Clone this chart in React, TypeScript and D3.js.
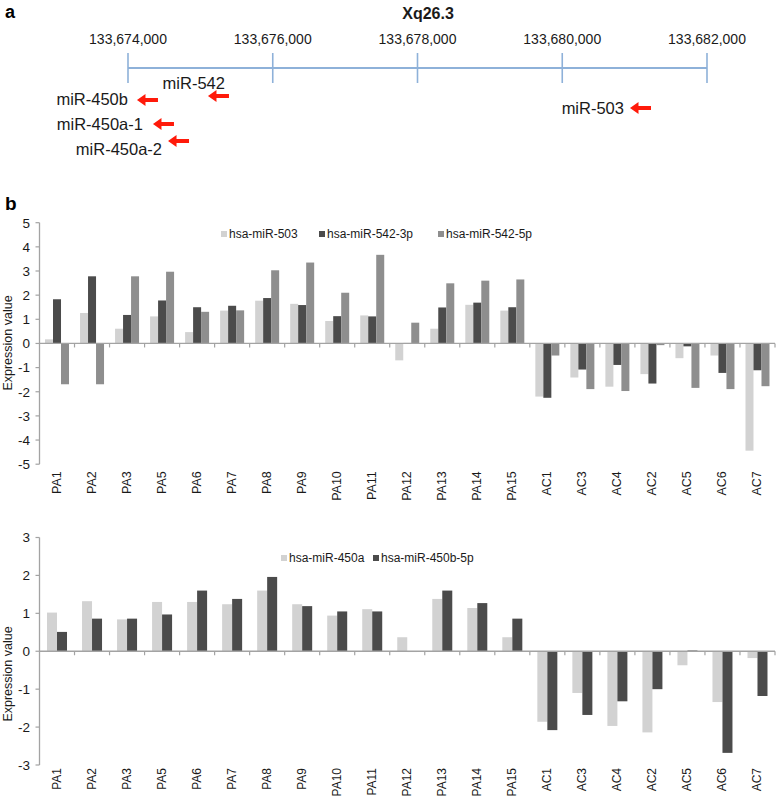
import React from 'react';
import * as d3 from 'd3';

// panel a: genomic locus
const genomeTicks = [133674000, 133676000, 133678000, 133680000, 133682000];
const mirNames = ['miR-542', 'miR-450b', 'miR-450a-1', 'miR-450a-2', 'miR-503'];
const mirPositions = [133675105, 133674124, 133674345, 133674553, 133680936];

// panel b: expression values
const categories = ['PA1', 'PA2', 'PA3', 'PA5', 'PA6', 'PA7', 'PA8', 'PA9', 'PA10', 'PA11', 'PA12', 'PA13', 'PA14', 'PA15', 'AC1', 'AC3', 'AC4', 'AC2', 'AC5', 'AC6', 'AC7'];

const mir503 = [0.17, 1.26, 0.61, 1.12, 0.47, 1.36, 1.77, 1.64, 0.93, 1.16, -0.70, 0.61, 1.60, 1.36, -2.20, -1.41, -1.79, -1.27, -0.61, -0.50, -4.44];
const mir542_3p = [1.83, 2.78, 1.18, 1.78, 1.50, 1.56, 1.88, 1.59, 1.13, 1.12, 0.02, 1.49, 1.69, 1.50, -2.25, -1.08, -0.89, -1.66, -0.12, -1.22, -1.11];
const mir542_5p = [-1.69, -1.69, 2.78, 2.97, 1.31, 1.37, 3.03, 3.35, 2.10, 3.67, 0.86, 2.49, 2.60, 2.65, -0.50, -1.89, -1.97, -0.07, -1.84, -1.89, -1.77];

const mir450a = [1.02, 1.32, 0.84, 1.30, 1.30, 1.24, 1.60, 1.24, 0.94, 1.11, 0.37, 1.38, 1.14, 0.37, -1.86, -1.10, -1.97, -2.14, -0.37, -1.34, -0.18];
const mir450b5p = [0.51, 0.86, 0.86, 0.97, 1.60, 1.38, 1.96, 1.19, 1.05, 1.05, -0.02, 1.60, 1.27, 0.86, -2.08, -1.68, -1.32, -1.00, 0.02, -2.68, -1.18];

const ticks1 = [5, 4, 3, 2, 1, 0, -1, -2, -3, -4, -5];
const ticks2 = [3, 2, 1, 0, -1, -2, -3];

const FONT = '"Liberation Sans", Arial, sans-serif';
const LIGHT = '#d2d2d2';
const DARK = '#4b4b4b';
const MID = '#8e8e8e';
const AXIS = '#a3a3a3';
const TEXT = '#1a1a1a';

// label / arrow placement for each miRNA (layout only)
const mirLayout: Record<string, { dx: number; ly: number; ay: number }> = {
  'miR-542': { dx: 17, ly: 89, ay: 96 },
  'miR-450b': { dx: -9, ly: 105, ay: 100 },
  'miR-450a-1': { dx: -10, ly: 130, ay: 124 },
  'miR-450a-2': { dx: -6, ly: 155, ay: 141 },
  'miR-503': { dx: -6, ly: 114, ay: 108 },
};

function Arrow({ x, y }: { x: number; y: number }) {
  // left pointing red arrow, tip at x
  const len = 21, head = 8.5, hh = 6, sh = 1.9;
  const d = `M${x},${y} L${x + head},${y - hh} L${x + head},${y - sh} L${x + len},${y - sh} L${x + len},${y + sh} L${x + head},${y + sh} L${x + head},${y + hh} Z`;
  return <path d={d} fill="#ff1a0a" />;
}

type Series = { name: string; values: number[]; color: string };

function BarPanel({ series, yDomain, yRange, ticks, barW, legendX, legendY, titleY, labelGap, labelSize }: {
  series: Series[]; yDomain: [number, number]; yRange: [number, number]; ticks: number[];
  barW: number; legendX: number[]; legendY: number; titleY: number; labelGap: number; labelSize: number;
}) {
  const x = d3.scaleBand().domain(categories).range([39.5, 775]);
  const y = d3.scaleLinear().domain(yDomain).range(yRange);
  const groupW = barW * series.length;
  const xs = d3.scaleBand().domain(series.map(s => s.name)).range([0, groupW]);
  const off = (x.bandwidth() - groupW) / 2;
  const y0 = y(0);
  const bottom = y(yDomain[0]);
  const boundaries = categories.map(c => (x(c) as number) + x.bandwidth());

  return (
    <g>
      {/* bars */}
      {series.map(s => (
        <g key={s.name}>
          {s.values.map((v, i) => {
            const bx = (x(categories[i]) as number) + off + (xs(s.name) as number);
            return (
              <rect key={i} x={bx} width={xs.bandwidth()} y={Math.min(y(v), y0)}
                height={Math.abs(y(v) - y0)} fill={s.color} />
            );
          })}
        </g>
      ))}
      {/* y axis */}
      <line x1={39.5} x2={39.5} y1={y(yDomain[1])} y2={bottom} stroke={AXIS} strokeWidth={1.3} />
      {ticks.map(t => (
        <g key={t}>
          <line x1={35.5} x2={39.5} y1={y(t)} y2={y(t)} stroke={AXIS} strokeWidth={1.2} />
          <text x={30} y={y(t)} dy="0.36em" textAnchor="end" fontSize={13.5} fill={TEXT}>{t}</text>
        </g>
      ))}
      {/* zero axis */}
      <line x1={39.5} x2={775} y1={y0} y2={y0} stroke={AXIS} strokeWidth={1.3} />
      {boundaries.map((b, i) => (
        <line key={i} x1={b} x2={b} y1={y0} y2={y0 + 4} stroke={AXIS} strokeWidth={1.2} />
      ))}
      {/* category labels */}
      {categories.map(c => {
        const cx = (x(c) as number) + x.bandwidth() / 2;
        const cy = bottom + labelGap;
        return (
          <text key={c} transform={`translate(${cx},${cy}) rotate(-90)`} textAnchor="end"
            dominantBaseline="central" fontSize={labelSize} fill={TEXT}>{c}</text>
        );
      })}
      {/* axis title */}
      <text transform={`translate(8,${titleY}) rotate(-90)`} textAnchor="middle"
        dominantBaseline="central" fontSize={12.5} fill={TEXT}>Expression value</text>
      {/* legend */}
      {series.map((s, i) => (
        <g key={s.name} transform={`translate(${legendX[i]},${legendY})`}>
          <rect x={0} y={-3} width={6} height={6} fill={s.color} />
          <text x={8} y={0} dy="0.36em" fontSize={12} fill={TEXT}>{s.name}</text>
        </g>
      ))}
    </g>
  );
}

export default function App() {
  const gx = d3.scaleLinear().domain([genomeTicks[0], genomeTicks[genomeTicks.length - 1]]).range([128, 707]);
  const axisY = 68;

  return (
    <svg width={778} height={800} style={{ position: 'absolute', left: 0, top: 0, background: '#fff' }}
      fontFamily={FONT}>
      {/* panel a */}
      <text x={5} y={18} fontSize={18} fontWeight="bold" fill="#000">a</text>
      <text x={428} y={19} textAnchor="middle" fontSize={16} fontWeight="bold" fill={TEXT}>Xq26.3</text>
      <line x1={gx(genomeTicks[0])} x2={gx(genomeTicks[genomeTicks.length - 1])} y1={axisY} y2={axisY}
        stroke="#8eb1d9" strokeWidth={2} />
      {genomeTicks.map(t => (
        <g key={t}>
          <line x1={gx(t)} x2={gx(t)} y1={axisY - 15} y2={axisY + 15} stroke="#8eb1d9" strokeWidth={1.6} />
          <text x={gx(t)} y={44} textAnchor="middle" fontSize={14} fill={TEXT}>{d3.format(',')(t)}</text>
        </g>
      ))}
      {mirNames.map((m, i) => {
        const lay = mirLayout[m];
        const tip = gx(mirPositions[i]);
        return (
          <g key={m}>
            <text x={tip + lay.dx} y={lay.ly} textAnchor="end" fontSize={16.5} fill={TEXT}>{m}</text>
            <Arrow x={tip} y={lay.ay} />
          </g>
        );
      })}

      {/* panel b */}
      <text x={5} y={210} fontSize={19} fontWeight="bold" fill="#000">b</text>
      <BarPanel
        series={[
          { name: 'hsa-miR-503', values: mir503, color: LIGHT },
          { name: 'hsa-miR-542-3p', values: mir542_3p, color: DARK },
          { name: 'hsa-miR-542-5p', values: mir542_5p, color: MID },
        ]}
        yDomain={[-5, 5]} yRange={[464.2, 222.7]} ticks={ticks1} barW={8}
        legendX={[221, 319, 438]} legendY={234} titleY={343} labelGap={7} labelSize={12.5}
      />
      <BarPanel
        series={[
          { name: 'hsa-miR-450a', values: mir450a, color: LIGHT },
          { name: 'hsa-miR-450b-5p', values: mir450b5p, color: DARK },
        ]}
        yDomain={[-3, 3]} yRange={[765, 537.5]} ticks={ticks2} barW={10}
        legendX={[281, 373]} legendY={558} titleY={674} labelGap={3} labelSize={12}
      />
    </svg>
  );
}
